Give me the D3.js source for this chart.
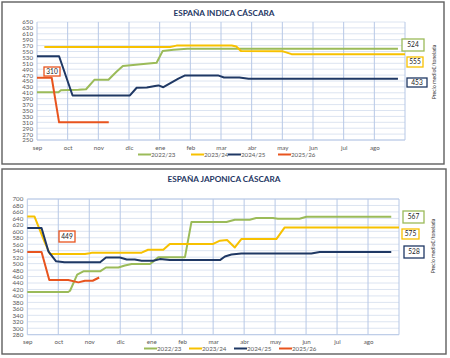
<!DOCTYPE html>
<html><head><meta charset="utf-8">
<script src="https://cdn.jsdelivr.net/npm/d3@7"></script>
<style>
html,body{margin:0;padding:0;background:#fff;}
svg{display:block;font-family:Lato,"Open Sans",sans-serif;}
</style></head>
<body><svg id="c" width="450" height="358"></svg>
<script>
// ---------- DATA ----------
const months = ["sep","oct","nov","dic","ene","feb","mar","abr","may","jun","jul","ago"];
const seriesNames = ["2022/23","2023/24","2024/25","2025/26"];
const seriesColors = ["#9bbb59","#f7c100","#1f3864","#e8541e"];

const indicaTicks = [250,270,290,310,330,350,370,390,410,430,450,470,490,510,530,550,570,590,610,630,650];
const japonicaTicks = [280,300,320,340,360,380,400,420,440,460,480,500,520,540,560,580,600,620,640,660,680,700];

// [month offset from 1 Sep, €/t]
const indica2223 = [[0,412],[0.7,412],[0.78,419],[1.35,420],[1.6,422],[1.87,454],[2.33,454],[2.6,482],[2.8,501],[3.3,506],[3.9,512],[4.1,552],[4.45,556],[4.9,559],[11.77,559]];
const indica2324 = [[0.24,565],[4.34,565],[4.55,570],[6.35,570],[6.5,567],[6.65,552],[8.0,551],[8.1,548],[8.3,541],[12,541]];
const indica2425 = [[0,534],[0.72,534],[1.16,401],[3.03,401],[3.25,427],[3.58,428],[3.85,433],[3.96,435],[4.12,429],[4.61,458],[4.83,469],[5.9,469],[6.1,462],[6.6,462],[6.9,458],[11.77,458]];
const indica2526 = [[0,461],[0.48,461],[0.72,310],[2.34,310]];
const indicaEndLabels = ["524","555","453"];
const indicaCurrent = "310";

const japonica2223 = [[0,412],[1.32,412],[1.38,416],[1.61,466],[1.81,476],[2.35,476],[2.54,488],[2.94,488],[3.15,494],[3.37,499],[3.96,499],[4.07,507],[4.23,520],[5.09,520],[5.3,629],[6.43,629],[6.7,636],[7.18,636],[7.39,641],[7.93,641],[8.09,639],[8.79,639],[9.01,645],[11.75,645]];
const japonica2324 = [[0,646],[0.23,646],[0.57,564],[0.73,530],[1.86,530],[2.02,532],[2.1,534],[3.69,534],[3.9,543],[4.39,543],[4.6,561],[6.0,561],[6.22,571],[6.45,573],[6.7,550],[6.91,576],[8.04,576],[8.31,612],[12,612]];
const japonica2425 = [[0,610],[0.46,610],[0.68,538],[0.93,507],[1.2,504],[2.35,504],[2.54,519],[2.99,519],[3.21,513],[3.47,513],[3.69,509],[4.07,509],[4.28,514],[4.6,511],[6.22,511],[6.38,522],[6.59,528],[6.91,531],[9.17,531],[9.44,536],[11.75,536]];
const japonica2526 = [[0,536],[0.46,536],[0.71,449],[1.32,449],[1.65,442],[1.86,447],[2.11,447],[2.32,457]];
const japonicaEndLabels = ["567","575","528"];
const japonicaCurrent = "449";

// ---------- DRAW ----------
const svg = d3.select("#c");

function panel(cfg){
  const g = svg.append("g");
  g.append("rect").attr("x",cfg.box[0]).attr("y",cfg.box[1]).attr("width",cfg.box[2]).attr("height",cfg.box[3])
    .attr("fill","#fff").attr("stroke","#5f5f5f").attr("stroke-width",1.4);
  g.append("text").attr("x",224).attr("y",cfg.titleY).attr("text-anchor","middle")
    .attr("font-size",8.2).attr("font-weight","bold").attr("fill","#1f3864").text(cfg.title);

  const x = d3.scaleLinear().domain([0,12]).range([cfg.left,cfg.right]);
  const y = d3.scaleLinear().domain([cfg.ticks[0],cfg.ticks[cfg.ticks.length-1]]).range([cfg.bottom,cfg.top]);

  g.append("g").selectAll("line").data(cfg.ticks).join("line")
    .attr("x1",cfg.left).attr("x2",cfg.right).attr("y1",d=>y(d)).attr("y2",d=>y(d))
    .attr("stroke","#dce4f1").attr("stroke-width",1);
  g.append("g").selectAll("line").data(d3.range(13)).join("line")
    .attr("x1",d=>x(d)).attr("x2",d=>x(d)).attr("y1",cfg.top).attr("y2",cfg.bottom)
    .attr("stroke","#b7c8e6").attr("stroke-width",1);
  g.append("line").attr("x1",cfg.left).attr("x2",cfg.right).attr("y1",cfg.bottom).attr("y2",cfg.bottom)
    .attr("stroke","#b7c8e6");
  if(cfg.frameTop) g.append("line").attr("x1",cfg.left).attr("x2",cfg.right).attr("y1",cfg.top).attr("y2",cfg.top).attr("stroke","#b7c8e6");

  const ya = d3.axisLeft(y).tickValues(cfg.ticks).tickSize(0).tickPadding(4);
  const yg = g.append("g").attr("transform",`translate(${cfg.left},0)`).call(ya);
  yg.select(".domain").remove();
  yg.selectAll("text").attr("font-size",6.2).attr("fill","#595959").attr("font-family","Lato, 'Open Sans', sans-serif");

  const xa = d3.axisBottom(x).tickValues(d3.range(12)).tickFormat(i=>months[i]).tickSize(0).tickPadding(cfg.xPad);
  const xg = g.append("g").attr("transform",`translate(0,${cfg.bottom})`).call(xa);
  xg.select(".domain").remove();
  xg.selectAll("text").attr("font-size",6.2).attr("fill","#595959").attr("font-family","Lato, 'Open Sans', sans-serif");

  const line = d3.line().x(d=>x(d[0])).y(d=>y(d[1]));
  cfg.series.forEach((s,i)=>{
    g.append("path").datum(s).attr("d",line).attr("fill","none")
      .attr("stroke",seriesColors[i]).attr("stroke-width",2).attr("stroke-linejoin","round");
  });

  cfg.legend.forEach((lx,i)=>{
    g.append("line").attr("x1",lx).attr("x2",lx+13).attr("y1",cfg.legY).attr("y2",cfg.legY)
      .attr("stroke",seriesColors[i]).attr("stroke-width",2);
    g.append("text").attr("x",lx+13).attr("y",cfg.legY+2.2).attr("font-size",6.2).attr("fill","#595959").text(seriesNames[i]);
  });

  cfg.boxes.forEach(b=>{
    g.append("rect").attr("x",b.x).attr("y",b.y).attr("width",b.w).attr("height",b.h)
      .attr("fill","#fff").attr("stroke",seriesColors[b.c]).attr("stroke-width",1.3);
    g.append("text").attr("x",b.x+b.w/2).attr("y",b.y+b.h/2+2.3).attr("text-anchor","middle")
      .attr("font-size",6.6).attr("fill","#222").text(b.t);
  });

  g.append("text").attr("transform",`translate(${cfg.ytX},${cfg.ytY}) rotate(-90)`).attr("text-anchor","middle")
    .attr("font-size",5.2).attr("fill","#333").text("Precio medio€/tonelada");
}

panel({
  box:[2,2,442,162], title:"ESPAÑA INDICA CÁSCARA", titleY:16,
  left:37, right:405, top:22, bottom:140, ticks:indicaTicks, xPad:6, frameTop:false,
  series:[indica2223,indica2324,indica2425,indica2526],
  legend:[138,191,228,278], legY:154.5,
  boxes:[
    {x:402,y:39,w:22,h:12,c:0,t:indicaEndLabels[0]},
    {x:407,y:57,w:16,h:10,c:1,t:indicaEndLabels[1]},
    {x:407,y:78,w:20,h:9,c:2,t:indicaEndLabels[2]},
    {x:44,y:67,w:16,h:9,c:3,t:indicaCurrent}
  ],
  ytX:436, ytY:72
});

panel({
  box:[2,169,444,185], title:"ESPAÑA JAPONICA CÁSCARA", titleY:182,
  left:27.3, right:399, top:199, bottom:334.7, ticks:japonicaTicks, xPad:5, frameTop:true,
  series:[japonica2223,japonica2324,japonica2425,japonica2526],
  legend:[144,189,234,279], legY:348.5,
  boxes:[
    {x:403,y:211,w:21,h:12,c:0,t:japonicaEndLabels[0]},
    {x:402,y:229,w:17,h:10,c:1,t:japonicaEndLabels[1]},
    {x:404,y:246,w:20,h:12,c:2,t:japonicaEndLabels[2]},
    {x:59,y:231,w:16,h:11,c:3,t:japonicaCurrent}
  ],
  ytX:435, ytY:246
});
</script>
</body></html>
